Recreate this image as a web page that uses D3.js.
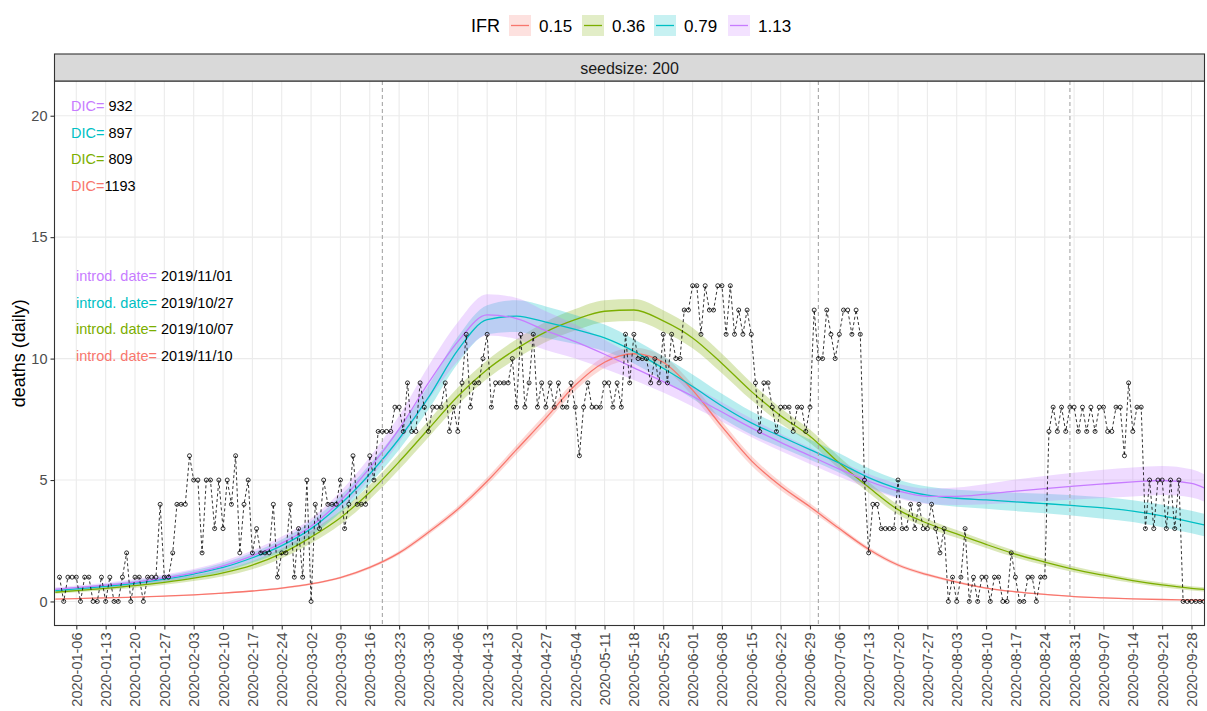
<!DOCTYPE html>
<html><head><meta charset="utf-8">
<script src="https://cdn.jsdelivr.net/npm/d3@7/dist/d3.min.js"></script>
<style>
body{margin:0;background:#fff;}
svg{display:block;font-family:"Liberation Sans",Arial,Helvetica,sans-serif;}
</style>
</head><body>
<svg id="chart" width="1207" height="711"></svg>
<script>
// ---------------- DATA ----------------
const obsStart = "2020-01-02";           // first observed day
const deaths = [
1,0,1,1,1,0,1,1,0,0, 1,0,1,0,0,1,2,0,1,1, 0,1,1,1,4,1,1,2,4,4,
4,6,5,5,2,5,5,3,5,3, 5,4,6,2,4,5,2,3,2,2, 2,4,1,2,2,4,1,3,1,5,
0,4,3,5,4,4,4,5,3,4, 6,4,4,4,6,5,7,7,7,7, 8,8,7,9,7,7,9,8,7,8,
8,8,9,7,8,7,9,11,8,9, 9,10,11,8,9,9,9,9,10,8, 11,8,9,11,8,9,8,9,8,9,
8,8,9,8,6,8,9,8,8,8, 9,9,8,9,8,11,9,11,10,10, 10,9,10,9,11,9,11,10,10,12,
12,13,13,11,13,12,12,13,13,11, 13,11,12,11,12,11,9,7,9,9, 8,7,8,8,8,7,8,8,7,8,
12,10,10,12,11,10,11,12,12,11, 12,11,5,2,4,4,3,3,3,3, 5,3,3,4,3,4,3,3,4,3,
2,3,0,1,0,1,3,0,1,0, 1,1,0,1,1,0,0,2,1,0, 0,1,1,0,1,1,7,8,7,8,
7,8,8,7,8,7,8,7,8,8, 7,7,8,8,6,9,7,8,8,3, 5,3,5,5,3,5,3,5,0,0,
0,0,0,0];

// model fit sample days (days after 2020-01-01)
const fitDays = [0,5,12,19,26,33,40,47,54,61,68,75,82,89,96,103,110,117,124,131,138,145,152,159,166,173,180,187,194,201,208,215,222,229,236,243,250,257,264,271,274];

const ifrLevels = ["0.15","0.36","0.79","1.13"];
const ifrColors = ["#F8766D","#7CAE00","#00BFC4","#C77CFF"];

const fit015 = [0.1,0.12,0.15,0.18,0.22,0.27,0.34,0.43,0.55,0.72,0.98,1.4,2.0,2.85,3.8,4.95,6.25,7.55,8.9,9.85,10.2,9.85,8.7,7.2,5.8,4.75,3.9,3.0,2.15,1.5,1.1,0.8,0.55,0.4,0.29,0.2,0.15,0.11,0.08,0.06,0.05];
const fit036 = [0.38,0.45,0.54,0.65,0.79,0.96,1.18,1.5,1.98,2.65,3.45,4.5,5.75,7.1,8.45,9.55,10.4,11.1,11.6,11.95,12.0,11.55,10.85,9.8,8.65,7.65,6.8,5.7,4.7,3.78,3.22,2.78,2.35,1.95,1.62,1.32,1.08,0.86,0.68,0.54,0.5];
const fit079 = [0.45,0.52,0.62,0.75,0.92,1.13,1.4,1.8,2.3,3.0,4.0,5.25,6.7,8.4,10.35,11.6,11.75,11.5,11.2,10.85,10.3,9.6,8.85,8.05,7.35,6.8,6.25,5.7,5.1,4.65,4.38,4.25,4.18,4.1,4.03,3.95,3.85,3.72,3.52,3.27,3.15];
const fit113 = [0.5,0.57,0.67,0.8,0.97,1.18,1.47,1.88,2.4,3.1,4.15,5.5,7.1,9.0,10.7,11.8,11.65,11.15,10.7,10.18,9.62,9.05,8.45,7.8,7.15,6.55,6.0,5.45,4.95,4.55,4.33,4.33,4.42,4.54,4.65,4.75,4.84,4.92,4.98,4.86,4.68];

// half widths of credible bands
const band015 = [0.01,0.01,0.01,0.015,0.02,0.02,0.025,0.03,0.035,0.04,0.05,0.06,0.08,0.1,0.12,0.15,0.18,0.2,0.22,0.24,0.25,0.25,0.24,0.22,0.2,0.17,0.14,0.11,0.09,0.07,0.06,0.05,0.04,0.03,0.025,0.02,0.02,0.015,0.01,0.01,0.01];
const band036 = [0.06,0.07,0.08,0.09,0.1,0.12,0.14,0.17,0.2,0.25,0.28,0.3,0.32,0.34,0.36,0.38,0.4,0.42,0.44,0.45,0.45,0.44,0.42,0.4,0.36,0.32,0.28,0.25,0.22,0.2,0.18,0.16,0.15,0.14,0.13,0.12,0.11,0.1,0.1,0.09,0.09];
const band079 = [0.08,0.09,0.1,0.11,0.13,0.15,0.18,0.21,0.25,0.3,0.35,0.4,0.45,0.5,0.55,0.6,0.65,0.65,0.6,0.55,0.5,0.5,0.5,0.5,0.48,0.45,0.42,0.4,0.38,0.36,0.35,0.35,0.36,0.38,0.4,0.42,0.44,0.45,0.46,0.46,0.46];
const band113 = [0.08,0.09,0.1,0.12,0.14,0.16,0.19,0.22,0.27,0.32,0.38,0.45,0.55,0.7,0.8,0.85,0.85,0.8,0.7,0.6,0.5,0.45,0.42,0.4,0.38,0.36,0.34,0.32,0.3,0.3,0.32,0.36,0.42,0.48,0.52,0.55,0.58,0.6,0.6,0.58,0.56];

// annotations (listed top to bottom: 1.13, 0.79, 0.36, 0.15)
const dicLevels = ["1.13","0.79","0.36","0.15"];
const dicValues = [" 932"," 897"," 809","1193"];
const dicY = [20.4,19.3,18.2,17.1];
const introDates = [" 2019/11/01"," 2019/10/27"," 2019/10/07"," 2019/11/10"];
const introY = [13.4,12.3,11.2,10.1];

const vlineDates = ["2020-03-19","2020-07-01","2020-08-30"];
const yTicks = [0,5,10,15,20];
const stripLabel = "seedsize: 200";
const yTitle = "deaths (daily)";
const legendTitle = "IFR";

// ---------------- LAYOUT ----------------
const W = 1207, H = 711;
const P = {l:54.5, r:1204.5, t:81, b:625.5};
const svg = d3.select("#chart");
const day0 = Date.UTC(2020,0,1);
const dayDate = d => new Date(day0 + d*86400000);
const parse = d3.utcParse("%Y-%m-%d");

const x = d3.scaleUtc().domain([dayDate(-0.2), dayDate(274.1)]).range([P.l, P.r]);
const y = d3.scaleLinear().domain([-0.99, 21.43]).range([P.b, P.t]);

svg.append("rect").attr("width",W).attr("height",H).attr("fill","#fff");

// clip
svg.append("defs").append("clipPath").attr("id","clip")
  .append("rect").attr("x",P.l).attr("y",P.t).attr("width",P.r-P.l).attr("height",P.b-P.t);

// grid
const xTicks = d3.utcMonday.range(parse("2020-01-06"), parse("2020-10-01"));
const grid = svg.append("g");
grid.selectAll("line.gx").data(xTicks).join("line")
  .attr("x1",d=>x(d)).attr("x2",d=>x(d)).attr("y1",P.t).attr("y2",P.b)
  .attr("stroke","#EBEBEB").attr("stroke-width",1.1);
grid.selectAll("line.gy").data(yTicks).join("line")
  .attr("x1",P.l).attr("x2",P.r).attr("y1",d=>y(d)).attr("y2",d=>y(d))
  .attr("stroke","#EBEBEB").attr("stroke-width",1.1);

const plot = svg.append("g").attr("clip-path","url(#clip)");

const fits = [fit015, fit036, fit079, fit113];
const bands = [band015, band036, band079, band113];

const area = (m,b) => d3.area()
  .x((d,i)=>x(dayDate(fitDays[i])))
  .y0((d,i)=>y(m[i]-b[i])).y1((d,i)=>y(m[i]+b[i]))
  .curve(d3.curveMonotoneX)(m);
const line = m => d3.line()
  .x((d,i)=>x(dayDate(fitDays[i]))).y(d=>y(d))
  .curve(d3.curveMonotoneX)(m);

fits.forEach((m,k)=>{
  plot.append("path").attr("d",area(m,bands[k]))
    .attr("fill",ifrColors[k]).attr("fill-opacity",0.28).attr("stroke","none");
});
fits.forEach((m,k)=>{
  plot.append("path").attr("d",line(m))
    .attr("fill","none").attr("stroke",ifrColors[k]).attr("stroke-width",1.3);
});

// vertical dashed lines
plot.selectAll("line.vl").data(vlineDates).join("line")
  .attr("x1",d=>x(parse(d))).attr("x2",d=>x(parse(d)))
  .attr("y1",P.t).attr("y2",P.b)
  .attr("stroke","#A6A6A6").attr("stroke-width",1.1).attr("stroke-dasharray","4,3");

// observed data
const start = parse(obsStart);
const obs = deaths.map((v,i)=>({date:d3.utcDay.offset(start,i), v}));
plot.append("path")
  .attr("d", d3.line().x(d=>x(d.date)).y(d=>y(d.v))(obs))
  .attr("fill","none").attr("stroke","#000").attr("stroke-width",0.8)
  .attr("stroke-dasharray","3,2.5");
plot.selectAll("circle.pt").data(obs).join("circle")
  .attr("cx",d=>x(d.date)).attr("cy",d=>y(d.v)).attr("r",2)
  .attr("fill","none").attr("stroke","#000").attr("stroke-width",0.8);

// annotations
const colorOf = lvl => ifrColors[ifrLevels.indexOf(lvl)];
const ann = svg.append("g").attr("font-size","14.5px");
dicLevels.forEach((lvl,i)=>{
  const t = ann.append("text").attr("x",71).attr("y",y(dicY[i]))
    .attr("dominant-baseline","central").attr("xml:space","preserve");
  t.append("tspan").attr("fill",colorOf(lvl)).text("DIC=");
  t.append("tspan").attr("fill","#000").text(dicValues[i]);
});
dicLevels.forEach((lvl,i)=>{
  const t = ann.append("text").attr("x",76).attr("y",y(introY[i]))
    .attr("dominant-baseline","central").attr("xml:space","preserve");
  t.append("tspan").attr("fill",colorOf(lvl)).text("introd. date=");
  t.append("tspan").attr("fill","#000").text(introDates[i]);
});

// panel border
svg.append("rect").attr("x",P.l).attr("y",P.t).attr("width",P.r-P.l).attr("height",P.b-P.t)
  .attr("fill","none").attr("stroke","#333333").attr("stroke-width",1.1);

// strip
svg.append("rect").attr("x",P.l).attr("y",54).attr("width",P.r-P.l).attr("height",P.t-54)
  .attr("fill","#D9D9D9").attr("stroke","#333333").attr("stroke-width",1.1);
svg.append("text").attr("x",(P.l+P.r)/2).attr("y",(54+P.t)/2+0.5)
  .attr("text-anchor","middle").attr("dominant-baseline","central")
  .attr("font-size","16px").attr("fill","#1A1A1A").text(stripLabel);

// axes
const yAxis = d3.axisLeft(y).tickValues(yTicks).tickSize(4).tickPadding(3);
const gy = svg.append("g").attr("transform",`translate(${P.l},0)`).call(yAxis);
gy.select(".domain").remove();
gy.selectAll(".tick line").attr("stroke","#333333").attr("stroke-width",1.1);
gy.selectAll(".tick text").attr("font-size","14.5px").attr("fill","#4D4D4D").attr("font-family",null);

const xAxis = d3.axisBottom(x).tickValues(xTicks).tickFormat(d3.utcFormat("%Y-%m-%d")).tickSize(4);
const gx = svg.append("g").attr("transform",`translate(0,${P.b})`).call(xAxis);
gx.select(".domain").remove();
gx.selectAll(".tick line").attr("stroke","#333333").attr("stroke-width",1.1);
gx.selectAll(".tick text")
  .attr("font-size","14.5px").attr("fill","#4D4D4D").attr("font-family",null)
  .attr("transform","rotate(-90)")
  .attr("text-anchor","end").attr("dominant-baseline","central")
  .attr("x",-7).attr("y",0).attr("dy",null);

svg.append("text").attr("transform",`translate(19,${(P.t+P.b)/2}) rotate(-90)`)
  .attr("text-anchor","middle").attr("dominant-baseline","central")
  .attr("font-size","18px").attr("fill","#000").text(yTitle);

// legend
const lg = svg.append("g");
lg.append("text").attr("x",471).attr("y",26).attr("dominant-baseline","central")
  .attr("font-size","18px").attr("fill","#000").text(legendTitle);
const keyX = [509,582,654,728];
ifrLevels.forEach((lvl,k)=>{
  lg.append("rect").attr("x",keyX[k]).attr("y",15).attr("width",22).attr("height",21)
    .attr("fill",ifrColors[k]).attr("fill-opacity",0.22);
  lg.append("line").attr("x1",keyX[k]+2).attr("x2",keyX[k]+20).attr("y1",25.5).attr("y2",25.5)
    .attr("stroke",ifrColors[k]).attr("stroke-width",1.3);
  lg.append("text").attr("x",keyX[k]+30).attr("y",26).attr("dominant-baseline","central")
    .attr("font-size","17px").attr("fill","#000").text(lvl);
});
</script>
</body></html>
